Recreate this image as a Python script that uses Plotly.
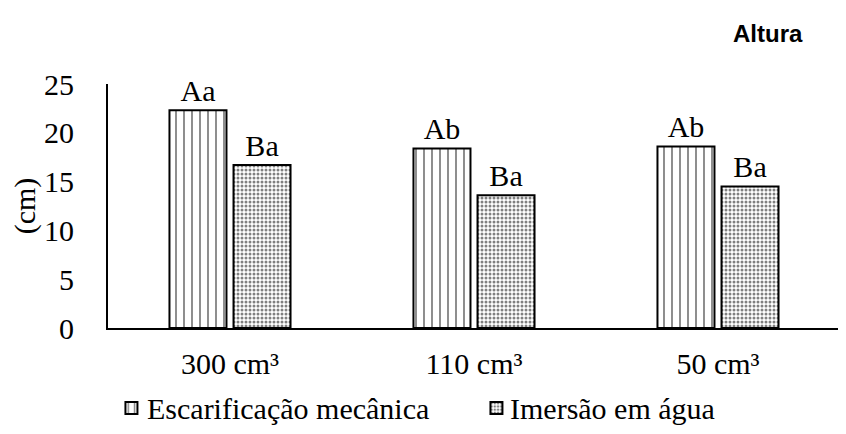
import plotly.graph_objects as go

categories = ["300 cm³", "110 cm³", "50 cm³"]
series_names = ["Escarificação mecânica", "Imersão em água"]
escarificacao = [22.3, 18.4, 18.6]
imersao = [16.7, 13.6, 14.5]
labels_esc = ["Aa", "Ab", "Ab"]
labels_ime = ["Ba", "Ba", "Ba"]
y_ticks = [0, 5, 10, 15, 20, 25]

serif = "Liberation Serif"
legend_serif = "Times New Roman, Liberation Serif, DejaVu Serif, serif"
FS = 30

fig = go.Figure()
fig.add_trace(go.Bar(
    x=categories, y=escarificacao, name="", hovertext=series_names[0],
    text=labels_esc, textposition="outside", cliponaxis=False,
    textfont=dict(family=serif, size=FS, color="black"),
    marker=dict(color="white", line=dict(color="black", width=2),
                pattern=dict(shape="|", fgcolor="black", bgcolor="white", size=8, solidity=0.22)),
))
fig.add_trace(go.Bar(
    x=categories, y=imersao, name=" ", hovertext=series_names[1],
    text=labels_ime, textposition="outside", cliponaxis=False,
    textfont=dict(family=serif, size=FS, color="black"),
    marker=dict(color="white", line=dict(color="black", width=2),
                pattern=dict(shape=".", fgcolor="black", bgcolor="white", size=4, solidity=0.45)),
))

legend_text_x = [0.0505, 0.5464]
annotations = [dict(text="<b>Altura</b>", xref="paper", yref="paper", x=0.952, y=1.209,
                    xanchor="right", yanchor="middle", showarrow=False,
                    font=dict(family="Liberation Sans", size=24, color="black"))]
for name, lx in zip(series_names, legend_text_x):
    annotations.append(dict(text=name, xref="paper", yref="paper", x=lx, y=-0.328,
                            xanchor="left", yanchor="middle", showarrow=False,
                            font=dict(family=legend_serif, size=FS, color="black")))

fig.update_layout(
    width=838, height=418,
    margin=dict(l=100, r=6, t=76, b=98, autoexpand=False),
    paper_bgcolor="white", plot_bgcolor="white",
    barmode="group", bargap=0.475, bargroupgap=0.11,
    font=dict(family=serif, size=FS, color="black"),
    showlegend=True,
    legend=dict(orientation="h", xref="container", yref="container",
                x=0.559, xanchor="center", y=0.043, yanchor="middle",
                font=dict(family=serif, size=FS, color="black"),
                itemwidth=30, entrywidth=320, traceorder="normal"),
    annotations=annotations,
)
fig.update_yaxes(range=[0, 25], tickvals=y_ticks, showgrid=False, zeroline=False,
                 showline=True, linecolor="black", linewidth=2, ticks="",
                 ticklabelstandoff=26,
                 tickfont=dict(family=serif, size=FS, color="black"),
                 title=dict(text="(cm)", standoff=4, font=dict(family=serif, size=FS, color="black")))
fig.update_xaxes(showgrid=False, showline=True, linecolor="black", linewidth=2, ticks="",
                 ticklabelstandoff=8,
                 tickfont=dict(family=serif, size=FS, color="black"))

fig.write_html("out.html")
